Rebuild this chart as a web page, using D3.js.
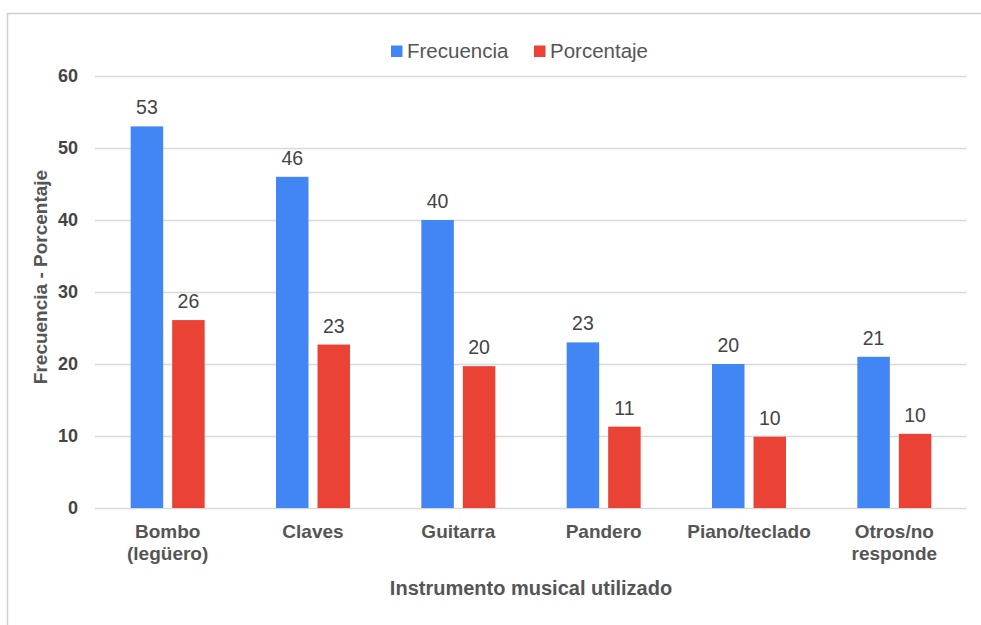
<!DOCTYPE html>
<html>
<head>
<meta charset="utf-8">
<script src="https://cdn.jsdelivr.net/npm/d3@7"></script>
<style>
  html, body { margin: 0; padding: 0; background: #fff; }
  svg { display: block; font-family: "Liberation Sans", Arial, sans-serif; }
</style>
</head>
<body>
<svg id="chart" width="981" height="625"></svg>
<script>
const categories = ["Bombo\n(legüero)", "Claves", "Guitarra", "Pandero", "Piano/teclado", "Otros/no\nresponde"];
const seriesNames = ["Frecuencia", "Porcentaje"];
const frecuencia = [53, 46, 40, 23, 20, 21];
const porcentaje = [26.1, 22.7, 19.7, 11.3, 9.9, 10.3];
const yTicks = [0, 10, 20, 30, 40, 50, 60];
const colors = ["#4285F4", "#EA4335"];
const yTitle = "Frecuencia - Porcentaje";
const xTitle = "Instrumento musical utilizado";

const svg = d3.select("#chart");
const W = 981, H = 625;
const plot = { left: 95, right: 967, top: 76, bottom: 508 };

// outer frame (cropped)
svg.append("rect")
  .attr("x", 7.5).attr("y", 13.5)
  .attr("width", W).attr("height", H)
  .attr("fill", "none").attr("stroke", "#d0d0d0").attr("stroke-width", 1.5);

const x0 = d3.scaleBand().domain(categories).range([plot.left, plot.right]).paddingInner(0).paddingOuter(0);
const bw = x0.bandwidth();
const x1 = d3.scaleBand().domain(seriesNames).range([bw / 2 - 37, bw / 2 + 37]).paddingInner(0.217).paddingOuter(0);
const y = d3.scaleLinear().domain([0, 60]).range([plot.bottom, plot.top]);

// gridlines + y axis
const yAxis = d3.axisLeft(y).tickValues(yTicks).tickSize(-(plot.right - plot.left)).tickPadding(17).tickFormat(d3.format("d"));
const gy = svg.append("g").attr("transform", `translate(${plot.left},0)`).call(yAxis);
gy.select(".domain").remove();
gy.selectAll(".tick line").attr("stroke", "#d9d9d9").attr("stroke-width", 1.3);
gy.selectAll(".tick text")
  .attr("fill", "#444").attr("font-size", 18).attr("font-weight", "bold")
  .attr("font-family", "'Liberation Sans', Arial, sans-serif");

// bars
const data = categories.map((c, i) => ({ cat: c, vals: [frecuencia[i], porcentaje[i]] }));
const groups = svg.append("g").selectAll("g").data(data).join("g")
  .attr("transform", d => `translate(${x0(d.cat)},0)`);

groups.selectAll("rect").data(d => d.vals.map((v, j) => ({ s: seriesNames[j], v, j })))
  .join("rect")
  .attr("x", d => x1(d.s))
  .attr("y", d => y(d.v))
  .attr("width", x1.bandwidth())
  .attr("height", d => y(0) - y(d.v))
  .attr("fill", d => colors[d.j]);

groups.selectAll("text.lbl").data(d => d.vals.map((v, j) => ({ s: seriesNames[j], v, j })))
  .join("text")
  .attr("class", "lbl")
  .attr("x", d => x1(d.s) + x1.bandwidth() / 2)
  .attr("y", d => y(d.v) - 12)
  .attr("text-anchor", "middle")
  .attr("font-size", 19.5)
  .attr("fill", "#444")
  .text(d => Math.round(d.v));

// category labels
const xAxis = svg.append("g");
categories.forEach(c => {
  const t = xAxis.append("text")
    .attr("x", x0(c) + bw / 2)
    .attr("y", 538)
    .attr("text-anchor", "middle")
    .attr("font-size", 19)
    .attr("font-weight", "bold")
    .attr("fill", "#555");
  c.split("\n").forEach((line, k) => {
    t.append("tspan").attr("x", x0(c) + bw / 2).attr("dy", k === 0 ? 0 : 22).text(line);
  });
});

// axis titles
svg.append("text")
  .attr("x", (plot.left + plot.right) / 2).attr("y", 595)
  .attr("text-anchor", "middle")
  .attr("font-size", 20).attr("font-weight", "bold").attr("fill", "#555")
  .text(xTitle);

svg.append("text")
  .attr("transform", `translate(47,277) rotate(-90)`)
  .attr("text-anchor", "middle")
  .attr("font-size", 19).attr("font-weight", "bold").attr("fill", "#555")
  .text(yTitle);

// legend
const legendPos = [391, 534];
const lg = svg.append("g");
seriesNames.forEach((s, i) => {
  lg.append("rect").attr("x", legendPos[i]).attr("y", 45.5).attr("width", 11.5).attr("height", 11.5).attr("fill", colors[i]);
  lg.append("text").attr("x", legendPos[i] + 16).attr("y", 58)
    .attr("font-size", 20.5).attr("fill", "#555").text(s);
});
</script>
</body>
</html>
